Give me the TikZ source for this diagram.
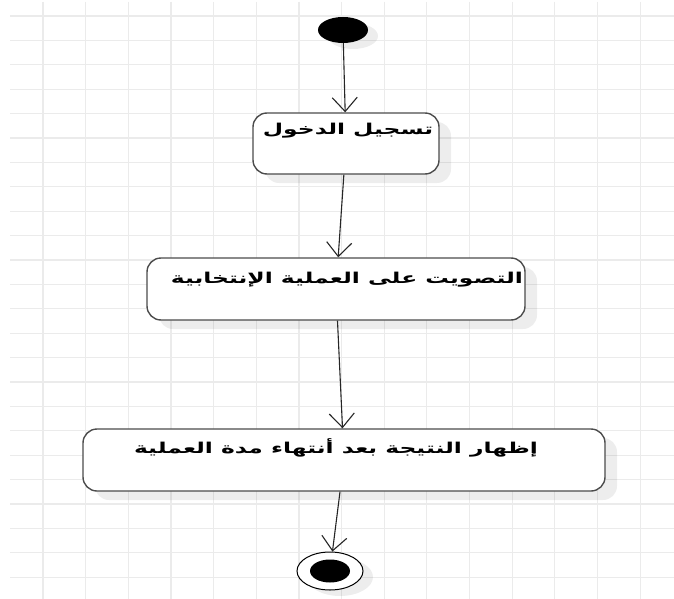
\documentclass[tikz,border=0pt]{standalone}
\usepackage{fontspec}
\usetikzlibrary{arrows.meta,shapes.geometric,shadows}
\newfontfamily\arabicfont[Script=Arabic]{DejaVu Sans}
\TeXXeTstate=1
\newcommand{\widetext}[1]{\scalebox{1.56}[1]{\beginR #1\endR}}

\begin{document}
\begin{tikzpicture}[x=1pt,y=-1pt,
    gridline/.style={draw=black!8,line width=1.2pt},
    actbox/.style={draw=black!70,line width=1.4pt,rounded corners=14pt,fill=white,inner sep=0pt,
        drop shadow={shadow xshift=12pt,shadow yshift=-9pt,fill=black,opacity=0.07}},
    acttext/.style={font=\arabicfont\bfseries\fontsize{15}{17}\selectfont,inner sep=0pt},
    flow/.style={draw=black!85,line width=1.1pt,-{Straight Barb[length=14pt,width=25pt]}}]
    \useasboundingbox (0,0) rectangle (674,599);
    \fill[white] (0,0) rectangle (674,599);
    % background grid
    \foreach \i in {0,...,14}
        \draw[gridline] (43+42.65*\i,2) -- (43+42.65*\i,599);
    \foreach \j in {0,...,23}
        \draw[gridline] (10,16+24.4*\j) -- (674,16+24.4*\j);
    % start and end
    \node[ellipse,fill=black,inner sep=0pt,minimum width=50pt,minimum height=26pt,
        drop shadow={shadow xshift=10pt,shadow yshift=-6pt,fill=black,opacity=0.07}] (start) at (343,30) {};
    \node[ellipse,draw=black,line width=1pt,fill=white,inner sep=0pt,minimum width=66pt,minimum height=38pt,
        drop shadow={shadow xshift=10pt,shadow yshift=-6pt,fill=black,opacity=0.07}] (final) at (330,571) {};
    \node[ellipse,fill=black,inner sep=0pt,minimum width=40pt,minimum height=23pt] (finaldot) at (final) {};
    % activities
    \node[actbox,minimum width=186pt,minimum height=61pt] (login) at (346,143.5) {};
    \node[actbox,minimum width=378pt,minimum height=62pt] (vote) at (336,289) {};
    \node[actbox,minimum width=522pt,minimum height=62pt] (result) at (344,460) {};
    \node[acttext] (logintext) at (348,131) {\widetext{تسجيل الدخول}};
    \node[acttext] (votetext) at (347,280) {\widetext{التصويت على العملية الإنتخابية}};
    \node[acttext] (resulttext) at (336,448) {\widetext{إظهار النتيجة بعد أنتهاء مدة العملية}};
    % flow
    \draw[flow] (start) -- (login);
    \draw[flow] (login) -- (vote);
    \draw[flow] (vote) -- (result);
    \draw[flow] (result) -- (final);
\end{tikzpicture}
\end{document}
